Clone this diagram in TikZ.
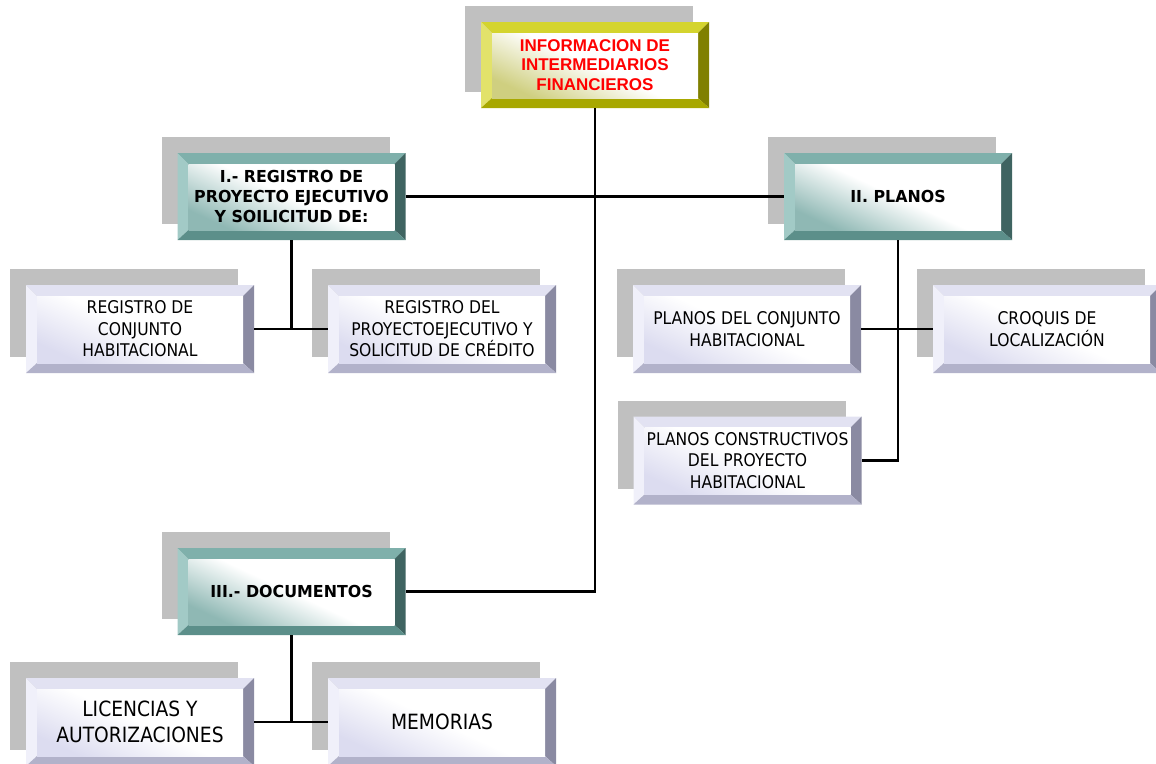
\documentclass[tikz,border=0pt]{standalone}
\usepackage{fontspec}
\newfontfamily\leaffont{DejaVu Sans}[FakeStretch=0.89]
\newfontfamily\headfont{DejaVu Sans}[FakeStretch=0.96]
\newfontfamily\titlefont{Liberation Sans}
\definecolor{shadowgray}{HTML}{C0C0C0}
\definecolor{ytop}{HTML}{D4D42E}\definecolor{yleft}{HTML}{E2E26A}\definecolor{yright}{HTML}{808000}\definecolor{ybot}{HTML}{A8A800}\definecolor{yface}{HTML}{CFCF80}
\definecolor{ttop}{HTML}{7FB0AB}\definecolor{tleft}{HTML}{A2CAC6}\definecolor{tright}{HTML}{3F6461}\definecolor{tbot}{HTML}{5C8F8A}\definecolor{tface}{HTML}{8FB8B4}
\definecolor{ltop}{HTML}{E2E2F2}\definecolor{lleft}{HTML}{F0F0FA}\definecolor{lright}{HTML}{8A8AA2}\definecolor{lbot}{HTML}{B2B2CA}\definecolor{lface}{HTML}{DCDCF0}
\definecolor{titlered}{HTML}{FF0000}
\tikzset{
  bevel/.style n args={5}{
    preaction={fill=shadowgray, transform canvas={shift={(-16pt,16pt)}}},
    path picture={
      \coordinate (nw) at (path picture bounding box.north west);
      \coordinate (ne) at (path picture bounding box.north east);
      \coordinate (sw) at (path picture bounding box.south west);
      \coordinate (se) at (path picture bounding box.south east);
      \coordinate (inw) at ([shift={(11pt,-11pt)}]nw);
      \coordinate (ine) at ([shift={(-11pt,-11pt)}]ne);
      \coordinate (isw) at ([shift={(11pt,10pt)}]sw);
      \coordinate (ise) at ([shift={(-11pt,10pt)}]se);
      \fill[#1] (nw) -- (ne) -- (ine) -- (inw) -- cycle;
      \fill[#2] (nw) -- (inw) -- (isw) -- (sw) -- cycle;
      \fill[#3] (ne) -- (se) -- (ise) -- (ine) -- cycle;
      \fill[#4] (sw) -- (isw) -- (ise) -- (se) -- cycle;
      \shade[top color=white, bottom color=#5, middle color=white, shading angle=-25] (inw) rectangle (ise);
    }},
  topbox/.style={bevel={ytop}{yleft}{yright}{ybot}{yface}, minimum width=228pt, minimum height=86pt,
    inner sep=0pt, align=center, text=titlered, font=\titlefont\bfseries\fontsize{17}{19.5}\selectfont},
  headbox/.style={bevel={ttop}{tleft}{tright}{tbot}{tface}, minimum width=228pt, minimum height=87pt,
    inner sep=0pt, align=center, font=\headfont\bfseries\fontsize{16.5}{20}\selectfont},
  leafbox/.style={bevel={ltop}{lleft}{lright}{lbot}{lface}, minimum width=228pt, minimum height=88pt,
    inner sep=0pt, align=center, font=\leaffont\fontsize{17.5}{21.5}\selectfont},
  bigleaf/.style={leafbox, font=\leaffont\fontsize{21}{26}\selectfont},
  conn/.style={draw=black, line width=2.2pt}
}
\begin{document}
\begin{tikzpicture}[x=1pt, y=-1pt]
\useasboundingbox (0,0) rectangle (1156,763);
\node (info)[topbox] at (595,65) {INFORMACION DE\\INTERMEDIARIOS\\FINANCIEROS};
\node (registro)[headbox] at (291.5,196.5) {I.- REGISTRO DE\\PROYECTO EJECUTIVO\\Y SOILICITUD DE:};
\node (planos)[headbox] at (898,196.5) {II. PLANOS};
\node (documentos)[headbox] at (291.5,591.5) {III.- DOCUMENTOS};
\node (regconj)[leafbox] at (140,329) {REGISTRO DE\\CONJUNTO\\HABITACIONAL};
\node (regproy)[leafbox] at (442,329) {REGISTRO DEL\\PROYECTOEJECUTIVO Y\\SOLICITUD DE CRÉDITO};
\node (planconj)[leafbox] at (747,329) {PLANOS DEL CONJUNTO\\HABITACIONAL};
\node (croquis)[leafbox] at (1047,329) {CROQUIS DE\\LOCALIZACIÓN};
\node (planconst)[leafbox] at (747.5,460.5) {PLANOS CONSTRUCTIVOS\\DEL PROYECTO\\HABITACIONAL};
\node (licencias)[bigleaf] at (140,722) {LICENCIAS Y\\AUTORIZACIONES};
\node (memorias)[bigleaf] at (442,722) {MEMORIAS};
\draw[conn] (info.south) -- (info.south |- documentos.east) -- (documentos.east);
\draw[conn] (registro.east) -- (planos.west);
\draw[conn] (registro.south) -- (registro.south |- regconj.east);
\draw[conn] (regconj.east) -- (regproy.west);
\draw[conn] (planos.south) -- (planos.south |- planconst.east) -- (planconst.east);
\draw[conn] (planconj.east) -- (croquis.west);
\draw[conn] (documentos.south) -- (documentos.south |- licencias.east);
\draw[conn] (licencias.east) -- (memorias.west);
\end{tikzpicture}
\end{document}
